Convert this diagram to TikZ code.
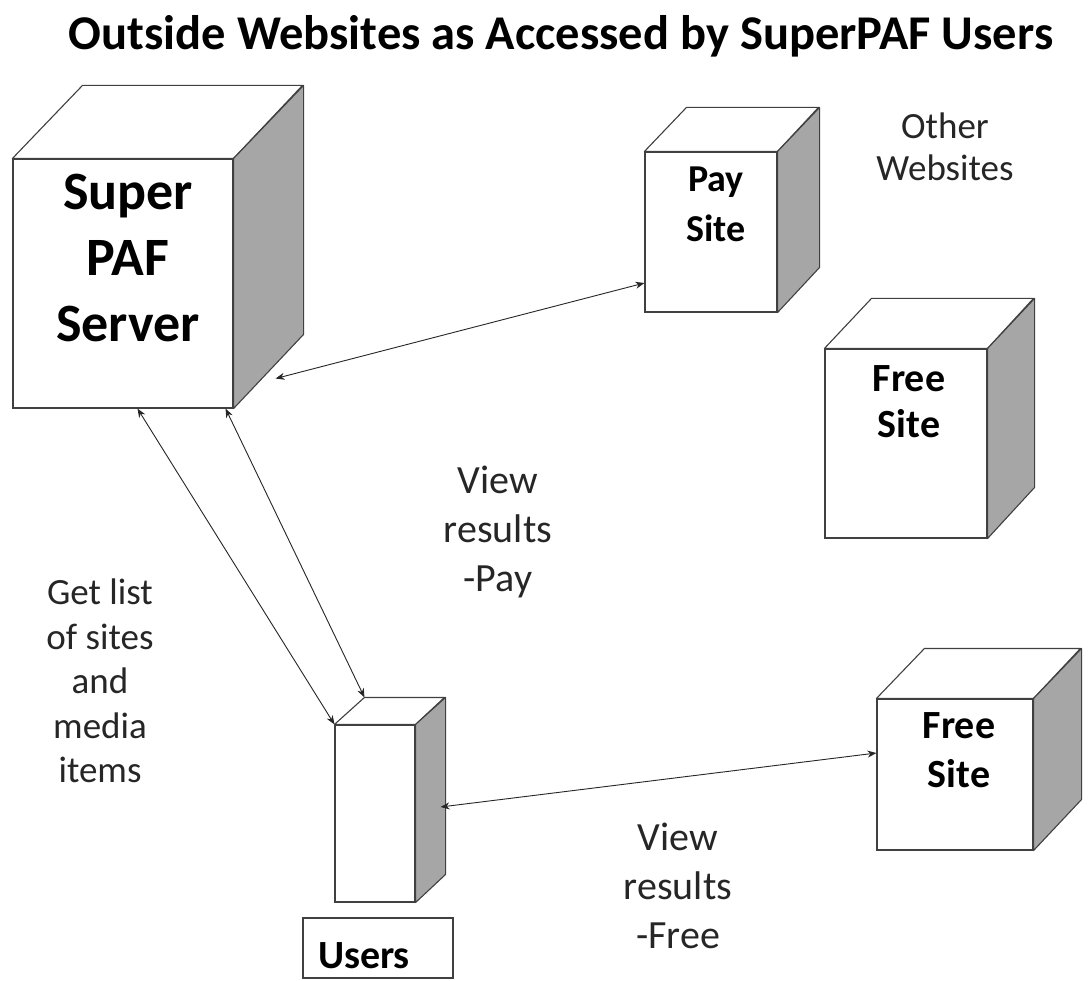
\documentclass[tikz,border=0pt]{standalone}
\usepackage{fontspec}
\setmainfont{Carlito}
\usetikzlibrary{arrows.meta}
\tikzset{
  frontface/.style={draw=black!75, line width=1.1pt, fill=white, inner sep=0pt},
  topface/.style={draw=black!75, line width=1.1pt, fill=white, line join=round},
  sideface/.style={draw=black!75, line width=1.1pt, fill=black!35, line join=round},
  boxlabel/.style={align=center, inner sep=0pt},
  note/.style={align=center, inner sep=0pt, text=black!85},
  link/.style={line width=0.9pt, draw=black!85, {Stealth[length=9pt,width=7pt]}-{Stealth[length=9pt,width=7pt]}},
}
% name, cx, cy, w, h, dx, dy
\newcommand\cubebox[7]{%
  \node[frontface, minimum width=#4pt, minimum height=#5pt] (#1) at (#2,#3) {};
  \draw[topface] (#1.north west) -- ++(#6,-#7) -- ++(#4,0) -- (#1.north east) -- cycle;
  \draw[sideface] (#1.north east) -- ++(#6,-#7) -- ++(0,#5) -- (#1.south east) -- cycle;
}
\begin{document}
\begin{tikzpicture}[x=1pt, y=-1pt]
\useasboundingbox[fill=white] (0,0) rectangle (1092,981);

% title
\node[anchor=base, inner sep=0pt, font=\fontsize{48.5}{58}\selectfont\bfseries] (title) at (561,50)
  {Outside Websites as Accessed by SuperPAF Users};

% cubes
\cubebox{server}{123}{283.5}{220}{249}{70}{73}
\cubebox{pay}{711}{232}{132}{160}{42}{44}
\cubebox{freeA}{906}{443.5}{162}{189}{47}{50}
\cubebox{freeB}{955}{774.5}{156}{151}{48}{50}
\cubebox{users}{375}{813.5}{80}{177}{30}{27}

% box labels
\node[boxlabel, font=\fontsize{54}{66}\selectfont\bfseries] (serverlbl) at (128,258) {Super\\PAF\\Server};
\node[boxlabel, font=\fontsize{38}{50}\selectfont\bfseries] (paylbl) at (716,204) {Pay\\Site};
\node[boxlabel, font=\fontsize{40}{46}\selectfont\bfseries] (freeAlbl) at (909,402) {Free\\Site};
\node[boxlabel, font=\fontsize{40}{49}\selectfont\bfseries] (freeBlbl) at (959,750) {Free\\Site};

% users caption box
\node[draw=black!75, line width=1.1pt, minimum width=150pt, minimum height=60pt,
      inner xsep=15pt, inner ysep=0pt, text width=120pt, align=left,
      text height=40pt, text depth=0pt,
      font=\fontsize{40}{48}\selectfont\bfseries] (userslbl) at (378,948) {Users};

% notes
\node[note, font=\fontsize{37}{42}\selectfont] (other) at (945,147) {Other\\Websites};
\node[note, font=\fontsize{40}{49}\selectfont] (viewpay) at (498,532) {View\\results\\-Pay};
\node[note, font=\fontsize{37}{44.5}\selectfont] (getlist) at (100,681) {Get list\\of sites\\and\\media\\items};
\node[note, font=\fontsize{40}{49}\selectfont] (viewfree) at (678,886) {View\\results\\-Free};

% connectors
\draw[link] ([xshift=42pt,yshift=30pt]server.south east) -- ([yshift=-51pt]pay.west);
\draw[link] ([xshift=125pt]server.south west) -- (users.north west);
\draw[link] ([xshift=-8pt]server.south east) -- ([xshift=30pt,yshift=27pt]users.north west);
\draw[link] ([xshift=25pt,yshift=6.5pt]users.east) -- ([yshift=21.5pt]freeB.west);
\end{tikzpicture}
\end{document}
